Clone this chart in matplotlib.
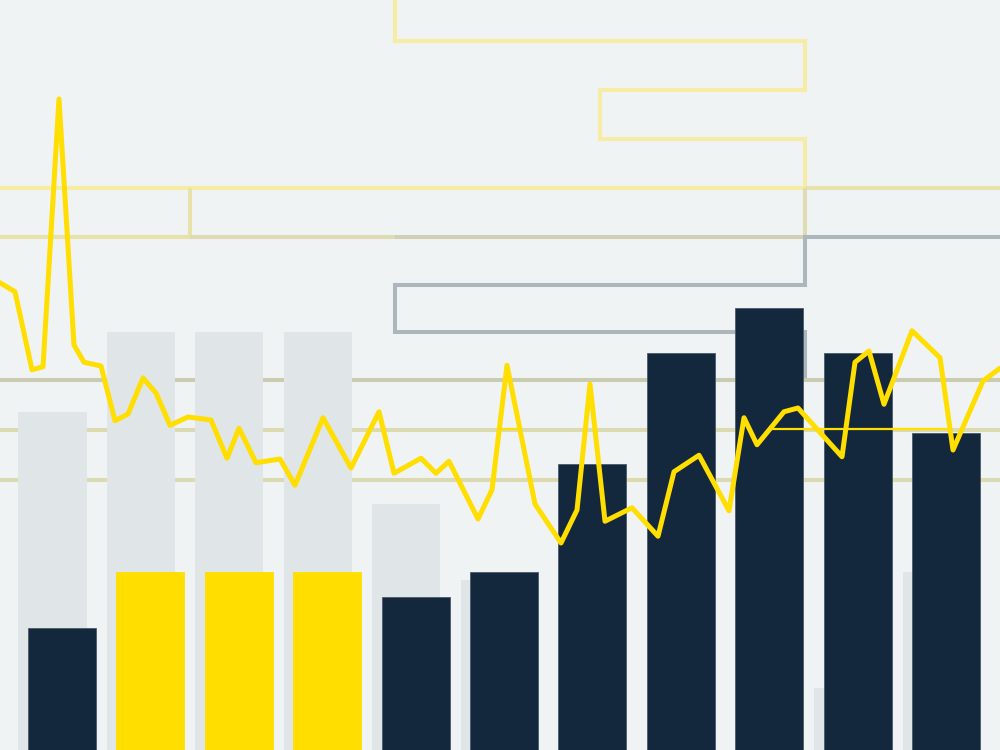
import numpy as np
import matplotlib
matplotlib.use("Agg")
import matplotlib.pyplot as plt

# bar values (front series) and colours, back series in light grey
front_vals = [16.3, 23.7, 23.7, 23.7, 20.4, 23.7, 38.1, 52.9, 58.9, 52.9, 42.3]
front_kind = ["navy", "yellow", "yellow", "yellow", "navy", "navy", "navy", "navy", "navy", "navy", "navy"]
back_vals = [45.1, 55.7, 55.7, 55.7, 32.8, 22.7, 0, 0, 0, 8.3, 23.7]

# main yellow line
line_x = [0.0, 1.5, 3.2, 4.3, 5.9, 7.4, 8.4, 10.1, 11.5, 12.8, 14.3, 15.6, 17.0, 18.8,
          21.1, 22.7, 23.9, 25.6, 28.0, 29.5, 32.3, 35.1, 37.9, 39.4, 42.1, 43.6, 44.9,
          47.8, 49.2, 50.7, 53.5, 56.1, 57.7, 59.0, 60.5, 63.2, 65.8, 67.4, 69.9, 72.9,
          74.4, 75.7, 78.4, 79.8, 84.2, 85.5, 86.9, 88.4, 91.2, 94.0, 95.3, 98.3, 100.0]
line_y = [62.3, 61.1, 50.7, 51.1, 86.8, 54.0, 51.7, 51.2, 43.9, 44.8, 49.6, 47.6, 43.3, 44.4,
          44.0, 38.9, 42.9, 38.3, 38.8, 35.3, 44.3, 37.6, 45.1, 36.9, 38.9, 36.9, 38.5,
          30.8, 34.7, 51.3, 32.8, 27.6, 32.0, 48.8, 30.5, 32.3, 28.5, 37.1, 39.3, 31.9,
          44.3, 40.7, 45.1, 45.6, 39.1, 51.7, 53.2, 46.1, 55.9, 52.3, 40.0, 49.2, 50.9]

# thin threshold segments
thr_level = 42.8
thr_spans = [(49.9, 52.0), (77.0, 95.0)]

# step guide lines: (x list, y list, colour)
steps = [
    ([39.5, 39.5, 80.5, 80.5, 60.0, 60.0, 80.5, 80.5], [100, 94.5, 94.5, 88.0, 88.0, 81.5, 81.5, 74.9], "#f6eca3"),
    ([0, 80.5], [74.9, 74.9], "#f6eca3"),
    ([80.5, 100], [74.9, 74.9], "#e8e3aa"),
    ([19.0, 19.0, 0], [74.9, 68.4, 68.4], "#e8e2a8"),
    ([19.0, 39.5], [68.4, 68.4], "#dedbb0"),
    ([80.5, 80.5], [74.9, 68.4], "#dedbb0"),
    ([39.5, 80.5], [68.4, 68.4], "#d2d0b4"),
    ([100, 80.5, 80.5, 39.5, 39.5, 80.5, 80.5], [68.4, 68.4, 62.0, 62.0, 55.7, 55.7, 49.3], "#adb5bd"),
    ([0, 100], [49.3, 49.3], "#cbcbb1"),
    ([0, 100], [42.7, 42.7], "#dcdab0"),
    ([0, 100], [36.0, 36.0], "#dcdab0"),
]

BG = "#eff3f4"
NAVY = "#13273d"
YELLOW = "#ffde00"
GREY = "#e0e5e8"

fig = plt.figure(figsize=(10, 7.5), dpi=100, facecolor=BG)
ax = fig.add_axes([0, 0, 1, 1])
ax.set_facecolor(BG)
ax.set_xlim(0, 100)
ax.set_ylim(0, 100)
ax.axis("off")

for xs, ys, c in steps:
    ax.plot(xs, ys, color=c, lw=2.9, solid_joinstyle="miter", solid_capstyle="butt", zorder=1)

pos = 6.2 + 8.84 * np.arange(len(front_vals))
ax.bar(pos - 0.95, back_vals, width=6.8, color=GREY, zorder=2)
cols = [NAVY if k == "navy" else YELLOW for k in front_kind]
edges = ["#4a5a6c" if k == "navy" else YELLOW for k in front_kind]
ax.bar(pos, front_vals, width=6.8, color=cols, edgecolor=edges, linewidth=0.6, zorder=3)

for a, b in thr_spans:
    ax.plot([a, b], [thr_level, thr_level], color=YELLOW, lw=1.6, zorder=4)

ax.plot(line_x, line_y, color=YELLOW, lw=3.6, solid_joinstyle="round", solid_capstyle="round", zorder=5)

fig.savefig("out.png", dpi=100, facecolor=BG)
